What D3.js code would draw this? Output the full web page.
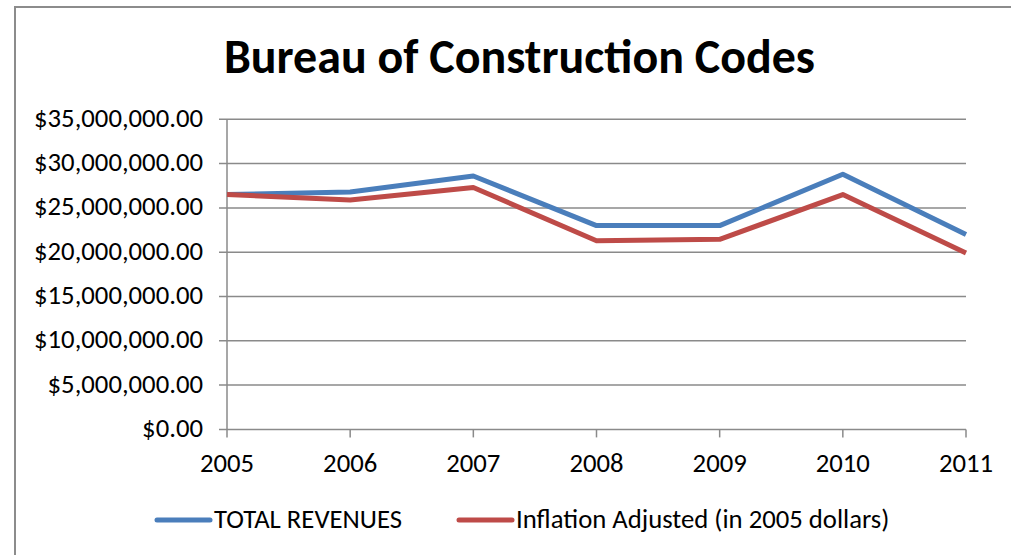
<!DOCTYPE html>
<html>
<head>
<meta charset="utf-8">
<script src="https://cdn.jsdelivr.net/npm/d3@7"></script>
<style>
  html, body { margin: 0; padding: 0; background: #fff; }
  svg { display: block; }
  text { font-family: Carlito, Lato, "Open Sans", sans-serif; fill: #000; }
</style>
</head>
<body>
<svg id="chart" width="1011" height="555"></svg>
<script>
// chart values
const YEARS = ["2005", "2006", "2007", "2008", "2009", "2010", "2011"];
const TOTAL_REVENUES = [26.5e6, 26.8e6, 28.6e6, 23.0e6, 23.0e6, 28.8e6, 22.0e6];
const INFLATION_ADJ  = [26.5e6, 25.9e6, 27.3e6, 21.3e6, 21.45e6, 26.5e6, 19.9e6];
const Y_TICKS = [0, 5e6, 10e6, 15e6, 20e6, 25e6, 30e6, 35e6];
const SERIES_NAMES = ["TOTAL REVENUES", "Inflation Adjusted (in 2005 dollars)"];

const COLORS = ["#4a7ebb", "#be4b48"];

const svg = d3.select("#chart");

// chart frame (runs off the right and bottom edges)
svg.append("path")
    .attr("d", "M15,560 L15,7 L1020,7")
    .attr("fill", "none")
    .attr("stroke", "#8c8c8c")
    .attr("stroke-width", 2);

// scale a text's font-size so it spans the wanted width
function fitWidth(sel, target) {
    const node = sel.node();
    const fs = parseFloat(sel.attr("font-size"));
    const w = node.getComputedTextLength();
    sel.attr("font-size", (fs * target / w).toFixed(2));
}

// scales
const x = d3.scalePoint().domain(YEARS).range([227, 966]);
const y = d3.scaleLinear().domain([0, 35e6]).range([429.4, 119.3]);

// title
const title = svg.append("text")
    .attr("x", 519.5)
    .attr("y", 73)
    .attr("text-anchor", "middle")
    .attr("font-weight", "bold")
    .attr("font-size", 40)
    .text("Bureau of Construction Codes");
fitWidth(title, 591);

// gridlines
svg.append("g")
    .selectAll("line")
    .data(Y_TICKS)
    .join("line")
    .attr("x1", 219)
    .attr("x2", 966)
    .attr("y1", d => y(d))
    .attr("y2", d => y(d))
    .attr("stroke", "#8a8a8a")
    .attr("stroke-width", 1.5);

// y axis line
svg.append("line")
    .attr("x1", 227).attr("x2", 227)
    .attr("y1", y(35e6)).attr("y2", y(0))
    .attr("stroke", "#8a8a8a")
    .attr("stroke-width", 1.5);

// x axis ticks
svg.append("g")
    .selectAll("line")
    .data(YEARS)
    .join("line")
    .attr("x1", d => x(d)).attr("x2", d => x(d))
    .attr("y1", y(0)).attr("y2", y(0) + 8)
    .attr("stroke", "#8a8a8a")
    .attr("stroke-width", 1.5);

// y tick labels
const fmt = d3.format("$,.2f");
const yLabels = svg.append("g")
    .selectAll("text")
    .data(Y_TICKS)
    .join("text")
    .attr("x", 203)
    .attr("y", d => y(d) + 7.5)
    .attr("text-anchor", "end")
    .attr("font-size", 22)
    .text(d => fmt(d));
// fit on the widest label
{
    const widest = yLabels.filter(d => d === 35e6);
    fitWidth(widest, 169);
    yLabels.attr("font-size", widest.attr("font-size"));
}
const labelSize = yLabels.attr("font-size");

// x tick labels
svg.append("g")
    .selectAll("text")
    .data(YEARS)
    .join("text")
    .attr("x", d => x(d))
    .attr("y", 472)
    .attr("text-anchor", "middle")
    .attr("font-size", labelSize)
    .text(d => d);

// lines
const line = d3.line()
    .x((d, i) => x(YEARS[i]))
    .y(d => y(d));

[TOTAL_REVENUES, INFLATION_ADJ].forEach((vals, i) => {
    svg.append("path")
        .datum(vals)
        .attr("d", line)
        .attr("fill", "none")
        .attr("stroke", COLORS[i])
        .attr("stroke-width", 5)
        .attr("stroke-linejoin", "round");
});

// legend
const legendX = [157, 459];
SERIES_NAMES.forEach((name, i) => {
    const g = svg.append("g");
    g.append("line")
        .attr("x1", legendX[i]).attr("x2", legendX[i] + 53)
        .attr("y1", 520).attr("y2", 520)
        .attr("stroke", COLORS[i])
        .attr("stroke-width", 5)
        .attr("stroke-linecap", "round");
    g.append("text")
        .attr("x", legendX[i] + 57)
        .attr("y", 528)
        .attr("font-size", labelSize)
        .text(name);
});
</script>
</body>
</html>
